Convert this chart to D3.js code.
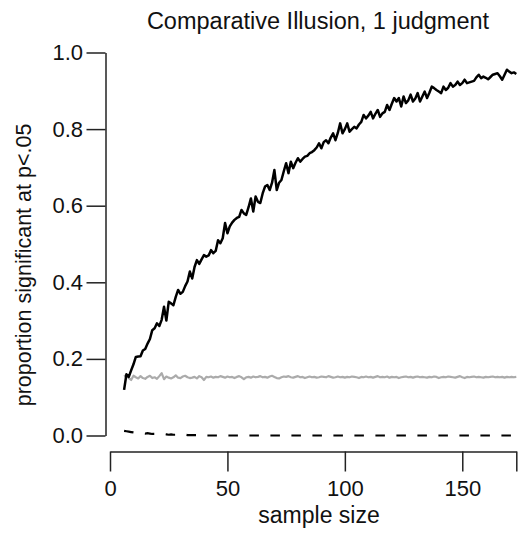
<!DOCTYPE html>
<html>
<head>
<meta charset="utf-8">
<script src="https://cdn.jsdelivr.net/npm/d3@7/dist/d3.min.js"></script>
<style>
  html, body { margin: 0; padding: 0; background: #fff; }
  svg { display: block; }
  text { font-family: "Liberation Sans", Arial, Helvetica, sans-serif; fill: #111; }
</style>
</head>
<body>
<svg id="chart" width="519" height="533"></svg>
<script>
// Simulated power by sample size for the comparative-illusion judgment.
const sampleSizes = d3.range(6, 174);

// Proportion of simulations significant at p < .05, per sample size.
const propSignificant = [
  0.119, 0.160, 0.153, 0.170, 0.186, 0.205, 0.206, 0.207, 0.222, 0.226,
  0.240, 0.252, 0.275, 0.280, 0.293, 0.286, 0.302, 0.336, 0.300, 0.349,
  0.345, 0.340, 0.362, 0.380, 0.370, 0.375, 0.390, 0.402, 0.428, 0.410,
  0.440, 0.458, 0.448, 0.460, 0.471, 0.467, 0.470, 0.484, 0.476, 0.482,
  0.510, 0.502, 0.515, 0.555, 0.528, 0.546, 0.556, 0.563, 0.568, 0.571,
  0.589, 0.580, 0.576, 0.596, 0.619, 0.585, 0.624, 0.610, 0.607, 0.632,
  0.650, 0.654, 0.641, 0.660, 0.693, 0.641, 0.660, 0.667, 0.690, 0.711,
  0.685, 0.715, 0.698, 0.712, 0.724, 0.715, 0.722, 0.728, 0.730, 0.737,
  0.740, 0.745, 0.752, 0.763, 0.750, 0.766, 0.771, 0.763, 0.778, 0.789,
  0.771, 0.790, 0.815, 0.789, 0.800, 0.815, 0.793, 0.800, 0.806, 0.802,
  0.812, 0.819, 0.837, 0.828, 0.835, 0.845, 0.828, 0.840, 0.850, 0.832,
  0.841, 0.845, 0.863, 0.850, 0.866, 0.881, 0.872, 0.881, 0.859, 0.885,
  0.868, 0.875, 0.890, 0.872, 0.880, 0.894, 0.872, 0.885, 0.898, 0.881,
  0.895, 0.911, 0.907, 0.902, 0.898, 0.894, 0.911, 0.902, 0.908, 0.920,
  0.911, 0.915, 0.924, 0.915, 0.920, 0.929, 0.920, 0.922, 0.924, 0.926,
  0.935, 0.942, 0.933, 0.937, 0.934, 0.930, 0.936, 0.942, 0.944, 0.946,
  0.938, 0.929, 0.942, 0.955, 0.950, 0.946, 0.948, 0.944
];

// Same proportion when the effect is absent (grey reference line).
const propNullSignificant = [
  0.154, 0.158, 0.150, 0.145, 0.156, 0.152, 0.149, 0.155, 0.150, 0.148,
  0.153, 0.156, 0.150, 0.152, 0.148, 0.155, 0.163, 0.147, 0.154, 0.151,
  0.149, 0.152, 0.157, 0.151, 0.150, 0.154, 0.156, 0.152, 0.150, 0.151,
  0.153, 0.149, 0.155, 0.152, 0.145, 0.153, 0.152, 0.154, 0.151, 0.153,
  0.152, 0.155, 0.153, 0.151, 0.154, 0.152, 0.153, 0.150, 0.153, 0.155,
  0.152, 0.147, 0.152, 0.153, 0.151, 0.154, 0.152, 0.153, 0.155, 0.152,
  0.153, 0.151, 0.154, 0.156, 0.153, 0.150, 0.149, 0.152, 0.154, 0.153,
  0.155, 0.152, 0.151, 0.153, 0.155, 0.152, 0.153, 0.150, 0.152, 0.154,
  0.152, 0.153, 0.151, 0.152, 0.154, 0.153, 0.152, 0.155, 0.153, 0.151,
  0.152, 0.154, 0.152, 0.153, 0.151, 0.153, 0.152, 0.154, 0.153, 0.152,
  0.150, 0.153, 0.152, 0.154, 0.152, 0.153, 0.151, 0.153, 0.155, 0.152,
  0.153, 0.152, 0.154, 0.151, 0.153, 0.152, 0.153, 0.150, 0.152, 0.153,
  0.154, 0.152, 0.153, 0.151, 0.153, 0.154, 0.152, 0.153, 0.152, 0.151,
  0.153, 0.152, 0.154, 0.153, 0.150, 0.152, 0.153, 0.152, 0.154, 0.153,
  0.152, 0.151, 0.153, 0.155, 0.152, 0.150, 0.153, 0.152, 0.153, 0.154,
  0.152, 0.153, 0.152, 0.151, 0.153, 0.152, 0.153, 0.154, 0.152, 0.153,
  0.152, 0.153, 0.151, 0.153, 0.152, 0.153, 0.152, 0.153
];

// Proportion significant in the wrong direction (dashed line).
const propWrongSign = [
  0.012, 0.011, 0.010, 0.009, 0.008, 0.008, 0.007, 0.007, 0.006, 0.005,
  0.006, 0.005, 0.004, 0.004, 0.004, 0.003, 0.003, 0.004, 0.003, 0.002,
  0.003, 0.002, 0.002, 0.002, 0.002, 0.001, 0.002, 0.001, 0.001, 0.001,
  0.001, 0.001, 0.001, 0.000, 0.001, 0.000, 0.000, 0.000, 0.000, 0.000,
  0.000, 0.000, 0.000, 0.000, 0.000, 0.000, 0.000, 0.000, 0.000, 0.000,
  0.000, 0.000, 0.000, 0.000, 0.000, 0.000, 0.000, 0.000, 0.000, 0.000,
  0.000, 0.000, 0.000, 0.000, 0.000, 0.000, 0.000, 0.000, 0.000, 0.000,
  0.000, 0.000, 0.000, 0.000, 0.000, 0.000, 0.000, 0.000, 0.000, 0.000,
  0.000, 0.000, 0.000, 0.000, 0.000, 0.000, 0.000, 0.000, 0.000, 0.000,
  0.000, 0.000, 0.000, 0.000, 0.000, 0.000, 0.000, 0.000, 0.000, 0.000,
  0.000, 0.000, 0.000, 0.000, 0.000, 0.000, 0.000, 0.000, 0.000, 0.000,
  0.000, 0.000, 0.000, 0.000, 0.000, 0.000, 0.000, 0.000, 0.000, 0.000,
  0.000, 0.000, 0.000, 0.000, 0.000, 0.000, 0.000, 0.000, 0.000, 0.000,
  0.000, 0.000, 0.000, 0.000, 0.000, 0.000, 0.000, 0.000, 0.000, 0.000,
  0.000, 0.000, 0.000, 0.000, 0.000, 0.000, 0.000, 0.000, 0.000, 0.000,
  0.000, 0.000, 0.000, 0.000, 0.000, 0.000, 0.000, 0.000, 0.000, 0.000,
  0.000, 0.000, 0.000, 0.000, 0.000, 0.000, 0.000, 0.000
];

const xTicks = [0, 50, 100, 150, 173];
const xTickLabels = ["0", "50", "100", "150", ""];
const yTicks = [0, 0.2, 0.4, 0.6, 0.8, 1.0];

const titleText = "Comparative Illusion, 1 judgment";
const xLabelText = "sample size";
const yLabelText = "proportion significant at p<.05";

const svg = d3.select("#chart");

const x = d3.scaleLinear().domain([0, 173]).range([110, 516.3]);
const y = d3.scaleLinear().domain([0, 1]).range([435.5, 52.5]);

// Axes
const axisColor = "#222";
const yAxis = svg.append("g")
  .attr("transform", "translate(105.5,0)")
  .call(d3.axisLeft(y).tickValues(yTicks).tickSize(19).tickSizeOuter(0)
    .tickPadding(3.5).tickFormat(d3.format(".1f")));

const xAxis = svg.append("g")
  .attr("transform", "translate(0,451.5)")
  .call(d3.axisBottom(x).tickValues(xTicks).tickSize(20).tickSizeOuter(0)
    .tickPadding(9).tickFormat((d, i) => xTickLabels[i]));

[yAxis, xAxis].forEach(g => {
  g.select(".domain").attr("stroke", axisColor).attr("stroke-width", 1.5);
  g.selectAll(".tick line").attr("stroke", axisColor).attr("stroke-width", 1.5);
  g.selectAll(".tick text").attr("font-size", 22).attr("fill", "#111")
    .style("font-family", "'Liberation Sans', Arial, Helvetica, sans-serif");
});

// Series lines
const line = series => d3.line()
  .x((d, i) => x(sampleSizes[i]))
  .y(d => y(d))(series);

svg.append("path")
  .attr("d", line(propNullSignificant))
  .attr("fill", "none")
  .attr("stroke", "#ababab")
  .attr("stroke-width", 2.2)
  .attr("stroke-linejoin", "round");

svg.append("path")
  .attr("d", line(propWrongSign))
  .attr("fill", "none")
  .attr("stroke", "#000")
  .attr("stroke-width", 2.2)
  .attr("stroke-dasharray", "9.5,11.5");

svg.append("path")
  .attr("d", line(propSignificant))
  .attr("fill", "none")
  .attr("stroke", "#000")
  .attr("stroke-width", 2.5)
  .attr("stroke-linejoin", "round");

// Titles
svg.append("text")
  .attr("x", 318).attr("y", 28.5)
  .attr("text-anchor", "middle")
  .attr("font-size", 23.5)
  .text(titleText);

svg.append("text")
  .attr("x", 319).attr("y", 523)
  .attr("text-anchor", "middle")
  .attr("font-size", 23)
  .text(xLabelText);

svg.append("text")
  .attr("transform", "translate(31,265) rotate(-90)")
  .attr("text-anchor", "middle")
  .attr("font-size", 21.5)
  .text(yLabelText);
</script>
</body>
</html>
